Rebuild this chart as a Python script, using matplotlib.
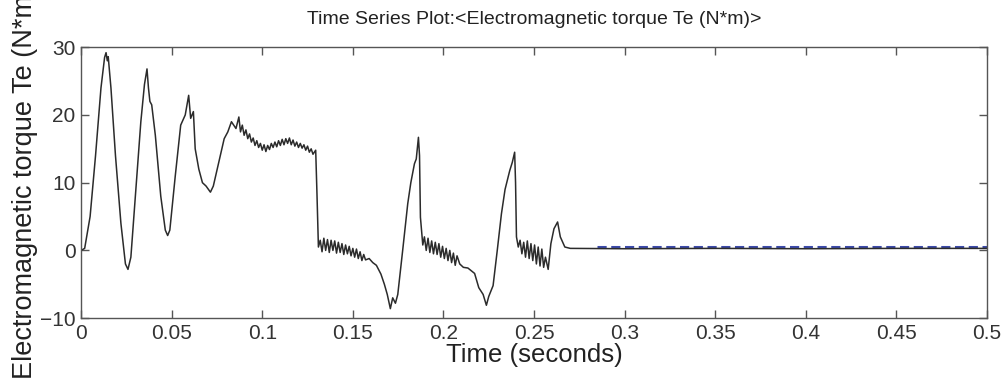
import matplotlib
import matplotlib.pyplot as plt

matplotlib.use('Agg')

# time (s) and electromagnetic torque (N*m)
time_s = [
    0, 0.002, 0.005, 0.008, 0.011, 0.013, 0.0138, 0.0145, 0.0150, 0.0165,
    0.019, 0.022, 0.0245, 0.0259, 0.0275, 0.030, 0.033, 0.035, 0.0364, 0.0372,
    0.038, 0.039, 0.041, 0.044, 0.0465, 0.0478, 0.049, 0.052, 0.055, 0.0575,
    0.0594, 0.0605, 0.062, 0.063, 0.065, 0.067, 0.069, 0.0714, 0.073, 0.076,
    0.079, 0.081, 0.083, 0.0855, 0.0871, 0.088, 0.089, 0.090, 0.091, 0.092,
    0.093, 0.094, 0.095, 0.096, 0.097, 0.098, 0.099, 0.100, 0.101, 0.102,
    0.103, 0.104, 0.105, 0.106, 0.107, 0.108, 0.109, 0.110, 0.111, 0.112,
    0.113, 0.114, 0.115, 0.116, 0.117, 0.118, 0.119, 0.120, 0.121, 0.122,
    0.123, 0.124, 0.125, 0.126, 0.127, 0.128, 0.1295, 0.1302, 0.131, 0.132,
    0.133, 0.134, 0.135, 0.136, 0.137, 0.138, 0.139, 0.140, 0.141, 0.142,
    0.143, 0.144, 0.145, 0.146, 0.147, 0.148, 0.149, 0.150, 0.151, 0.152,
    0.153, 0.154, 0.155, 0.156, 0.157, 0.159, 0.161, 0.163, 0.1655, 0.1674,
    0.169, 0.1707, 0.172, 0.1735, 0.1748, 0.1775, 0.1803, 0.182, 0.184, 0.185,
    0.1862, 0.1868, 0.1873, 0.1886, 0.1895, 0.1905, 0.1915, 0.1925, 0.1935, 0.1945,
    0.1955, 0.1965, 0.1975, 0.1985, 0.1995, 0.2005, 0.2015, 0.2025, 0.2035, 0.2045,
    0.2055, 0.2065, 0.2075, 0.209, 0.211, 0.2135, 0.2172, 0.2195, 0.2219, 0.2237,
    0.225, 0.2274, 0.2297, 0.232, 0.234, 0.2366, 0.238, 0.2393, 0.2398, 0.2403,
    0.2413, 0.2423, 0.2433, 0.2443, 0.2453, 0.2463, 0.2473, 0.2483, 0.2493, 0.2503,
    0.2513, 0.2523, 0.2533, 0.2543, 0.2553, 0.2563, 0.2578, 0.2593, 0.261, 0.263,
    0.2645, 0.267, 0.270, 0.300, 0.350, 0.400, 0.450, 0.500,
]
torque_te = [
    0, 0.3, 5, 14, 24, 28.5, 29.2, 28, 28.6, 24,
    14, 4, -2, -2.8, -1, 8, 19, 24.5, 26.8, 24,
    22, 21.5, 17, 8, 3, 2.2, 3, 11, 18.5, 20,
    22.9, 19.5, 20.5, 15, 12, 10, 9.5, 8.6, 9.5, 13,
    16.5, 17.5, 19, 18, 19.7, 17.5, 18.5, 17, 17.8, 16.5,
    17.2, 16, 16.6, 15.5, 16.2, 15.2, 15.8, 14.8, 15.6, 14.6,
    15.5, 14.9, 15.8, 15.2, 16, 15.3, 16.2, 15.5, 16.4, 15.6,
    16.5, 15.8, 16.6, 15.6, 16.3, 15.4, 16, 15.2, 15.8, 15.1,
    15.6, 14.8, 15.4, 14.5, 15, 14.2, 14.8, 8.4, 0.5, 1.5,
    -0.2, 1.8, 0, 1.6, -0.3, 1.5, 0, 1.4, -0.4, 1.2,
    -0.3, 1.0, -0.6, 0.8, -0.5, 0.6, -0.8, 0.3, -1, 0.2,
    -1.2, -0.2, -1.5, -0.6, -1.4, -1.2, -1.8, -2.2, -3.5, -5,
    -6.5, -8.6, -7, -7.8, -6.5, 0, 6.9, 10, 12.8, 13.5,
    16.7, 14, 4.9, 0.8, 2, 0, 1.8, -0.3, 1.4, -0.5,
    1.2, -0.6, 1.0, -1, 0.6, -1.2, 0.3, -1.5, 0, -1.8,
    -0.4, -2.2, -0.8, -2, -2.5, -2.6, -3.4, -5.5, -6.5, -8.1,
    -6.8, -5.2, 0, 5.4, 9, 11.8, 13, 14.5, 10, 2,
    0.5, 1.5, -0.5, 1.2, -1, 1.4, -1.2, 1, -1.5, 0.8,
    -2, 0.5, -2.3, 0.2, -2.5, -1, -2.8, 1, 3.2, 4.2,
    2, 0.5, 0.3, 0.25, 0.3, 0.25, 0.3, 0.3,
]

# blue ripple band seen in the steady-state part
steady_time = [0.285, 0.500]
steady_te = [0.45, 0.45]

x_ticks = [0, 0.05, 0.1, 0.15, 0.2, 0.25, 0.3, 0.35, 0.4, 0.45, 0.5]
x_tick_labels = ['0', '0.05', '0.1', '0.15', '0.2', '0.25', '0.3', '0.35', '0.4', '0.45', '0.5']
y_ticks = [-10, 0, 10, 20, 30]

plt.rcParams['font.family'] = ['Liberation Sans', 'DejaVu Sans']

fig = plt.figure(figsize=(10.08, 3.81), dpi=100)
ax = fig.add_axes([0.0804, 0.165, 0.8988, 0.711])

ax.plot(steady_time, steady_te, color='#1a2a9a', lw=2.2, dashes=(3, 1.5), alpha=0.85)
ax.plot(time_s, torque_te, color='#2b2b2b', lw=1.1)

ax.set_xlim(0, 0.5)
ax.set_ylim(-10, 30)
ax.set_xticks(x_ticks)
ax.set_xticklabels(x_tick_labels)
ax.set_yticks(y_ticks)
ax.tick_params(direction='in', length=6, width=1, colors='#555555',
               labelcolor='#333333', labelsize=15, top=True, right=True, pad=4)
for spine in ax.spines.values():
    spine.set_color('#555555')
    spine.set_linewidth(1)

ax.set_xlabel('Time (seconds)', fontsize=18.5, color='#222222', labelpad=0)
ax.set_ylabel('Electromagnetic torque Te (N*m)', fontsize=19.5, color='#222222', labelpad=1)
ax.set_title('Time Series Plot:<Electromagnetic torque Te (N*m)>', fontsize=14,
             color='#222222', pad=17)

fig.savefig('out.png', dpi=100)
plt.close(fig)
